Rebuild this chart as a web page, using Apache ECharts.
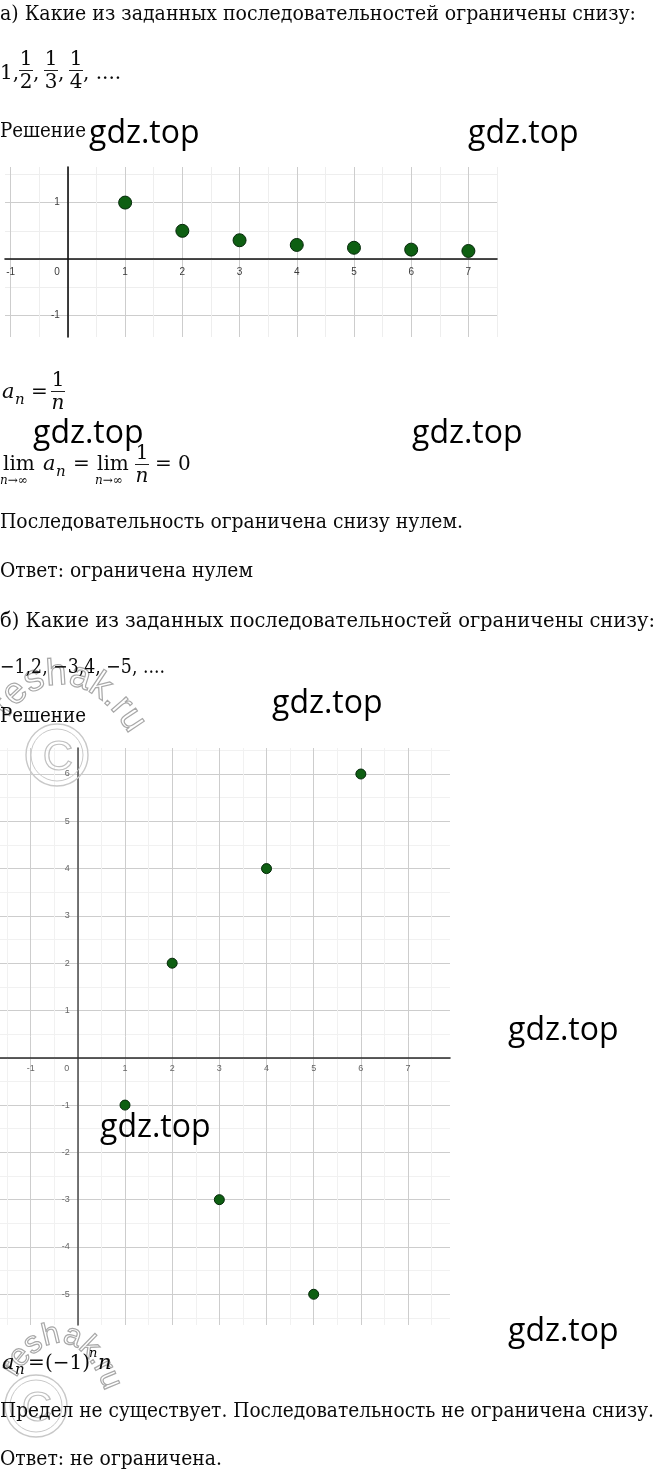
<!DOCTYPE html>
<html><head><meta charset="utf-8">
<script src="https://cdn.jsdelivr.net/npm/echarts@6/dist/echarts.min.js"></script>
<style>
html,body{margin:0;padding:0;background:#fff;}
#page{position:relative;width:656px;height:1471px;overflow:hidden;background:#fff;}
#chart{position:absolute;left:0;top:0;width:656px;height:1471px;}
.t{position:absolute;white-space:nowrap;font-family:"DejaVu Serif";line-height:1;color:#0a0a0a;transform-origin:0 0;}
.g{position:absolute;white-space:nowrap;font-family:"Open Sans";line-height:1;color:#000;}
.bar{position:absolute;height:1px;background:#222;}
#wm{position:absolute;left:0;top:0;pointer-events:none;}
</style></head>
<body>
<div id="page">
<div id="chart"></div>
<svg id="wm" width="656" height="1471">
<defs>
<path id="arc1" d="M 8 718 C 45 655, 135 675, 158 825"/>
<path id="arc2" d="M 16 1378 C 45 1325, 100 1320, 118 1448"/>
</defs>
<g fill="none" stroke="#c8c8c8">
<circle cx="57" cy="755" r="31" stroke-width="1.4"/>
<circle cx="57" cy="755" r="26" stroke-width="1"/>
<circle cx="36" cy="1406" r="31" stroke-width="1.4"/>
<circle cx="36" cy="1406" r="26" stroke-width="1"/>
</g>
<text x="58" y="770" text-anchor="middle" font-family="Liberation Sans" font-size="42" fill="none" stroke="#c0c0c0" stroke-width="1.2">C</text>
<text x="37" y="1421" text-anchor="middle" font-family="Liberation Sans" font-size="42" fill="none" stroke="#c0c0c0" stroke-width="1.2">C</text>
<text font-family="Liberation Sans" font-size="37" fill="none" stroke="#a8a8a8" stroke-width="1.2"><textPath href="#arc1">reshak.ru</textPath></text>
<text font-family="Liberation Sans" font-size="31" fill="none" stroke="#a8a8a8" stroke-width="1.2"><textPath href="#arc2">reshak.ru</textPath></text>
</svg>
</div>
<script>
// ---------- data ----------
const nA = [1, 2, 3, 4, 5, 6, 7];
const valuesA = [1, 0.5, 0.333, 0.25, 0.2, 0.167, 0.143];
const nB = [1, 2, 3, 4, 5, 6];
const valuesB = [-1, 2, -3, 4, -5, 6];
const xTicksA = [-1, 0, 1, 2, 3, 4, 5, 6, 7];
const yTicksA = [-1, 0, 1];
const yLabelsA = [-1, 1];
const xMinorA = [-0.5, 0.5, 1.5, 2.5, 3.5, 4.5, 5.5, 6.5, 7.5];
const yMinorA = [-0.5, 0.5, 1.5];
const xTicksB = [-1, 0, 1, 2, 3, 4, 5, 6, 7];
const yTicksB = [-5, -4, -3, -2, -1, 0, 1, 2, 3, 4, 5, 6];
const yLabelsB = [-5, -4, -3, -2, -1, 1, 2, 3, 4, 5, 6];
const xMinorB = [-1.5, -0.5, 0.5, 1.5, 2.5, 3.5, 4.5, 5.5, 6.5, 7.5];
const yMinorB = [-5.5, -4.5, -3.5, -2.5, -1.5, -0.5, 0.5, 1.5, 2.5, 3.5, 4.5, 5.5, 6.5];

// ---------- text ----------
const page = document.getElementById('page');
function put(txt, x, base, size, o) {
  o = o || {};
  const d = document.createElement('div');
  d.className = o.cls || 't';
  d.style.fontSize = size + 'px';
  if (o.italic) d.style.fontStyle = 'italic';
  d.appendChild(document.createTextNode(txt));
  const m = document.createElement('i');
  m.style.cssText = 'display:inline-block;width:0;height:0;vertical-align:baseline';
  d.appendChild(m);
  d.style.left = '0px'; d.style.top = '0px';
  page.appendChild(d);
  const bOff = m.offsetTop;
  const w = d.getBoundingClientRect().width;
  let left = x;
  if (o.center) left = x - w / 2;
  d.style.left = left + 'px';
  d.style.top = (base - bOff) + 'px';
  if (o.width) d.style.transform = 'scaleX(' + (o.width / w) + ')';
  return d;
}
function bar(x1, x2, y) {
  const b = document.createElement('div');
  b.className = 'bar';
  b.style.left = x1 + 'px'; b.style.width = (x2 - x1) + 'px'; b.style.top = y + 'px';
  page.appendChild(b);
}
function frac(num, den, cx, barY, size, denItalic) {
  put(num, cx, barY - 5, size, {center: true});
  put(den, cx, barY + 18, size, {center: true, italic: denItalic});
  bar(cx - 7, cx + 7, barY);
}
const FS = 19.5;
put('а) Какие из заданных последовательностей ограничены снизу:', 0, 20, FS, {width: 636});
// 1, 1/2, 1/3, 1/4, ....
put('1,', 0, 79, 20);
frac('1', '2', 26, 70, 20);
put(',', 33, 79, 20);
frac('1', '3', 51, 70, 20);
put(',', 58, 79, 20);
frac('1', '4', 76, 70, 20);
put(', ....', 83, 79, 20);
put('Решение', 0, 137, FS, {width: 86});

// a_n = 1/n
put('a', 2, 398, 21, {italic: true});
put('n', 15, 404, 15, {italic: true});
put('=', 31, 398, 20);
frac('1', 'n', 58, 391, 20, true);

// lim
put('lim', 3, 470, 20);
put('n→∞', 0, 484, 12, {italic: true});
put('a', 43, 470, 21, {italic: true});
put('n', 56, 476, 15, {italic: true});
put('=', 73, 470, 20);
put('lim', 97, 470, 20);
put('n→∞', 95, 484, 12, {italic: true});
frac('1', 'n', 142, 464, 20, true);
put('= 0', 155, 470, 20);

put('Последовательность ограничена снизу нулем.', 0, 528, FS, {width: 463});
put('Ответ: ограничена нулем', 0, 577, FS, {width: 253});
put('б) Какие из заданных последовательностей ограничены снизу:', 0, 627, FS, {width: 655});
put('−1,2, −3,4, −5, ....', 0, 673, FS, {width: 165});
put('Решение', 0, 722, FS, {width: 86});

// a_n = (-1)^n n
put('a', 2, 1369, 21, {italic: true});
put('n', 15, 1374, 15, {italic: true});
put('=', 28, 1369, 20);
put('(−1)', 45, 1369, 20);
put('n', 89, 1357, 13, {italic: true});
put('n', 98, 1369, 21, {italic: true});

put('Предел не существует. Последовательность не ограничена снизу.', 0, 1417, FS, {width: 654});
put('Ответ: не ограничена.', 0, 1465, FS, {width: 222});

// gdz.top watermarks
[[89,143],[468,143],[33,443],[412,443],[272,713],[508,1040],[100,1137],[508,1341]].forEach(function(p){
  put('gdz.top', p[0], p[1], 32, {cls: 'g'});
});

// ---------- charts ----------
const chart = echarts.init(document.getElementById('chart'), null, {renderer: 'canvas'});
const labelFont = 'Liberation Sans';
const G = [
  {left: 5, top: 167, width: 492, height: 170},
  {left: 0, top: 748, width: 450, height: 577}
];
// offset that moves a bottom/left axis onto the zero of the other axis
function zeroOffsetX(g, ymin, ymax) { return -(0 - ymin) / (ymax - ymin) * g.height; }
function zeroOffsetY(g, xmin, xmax) { return -(0 - xmin) / (xmax - xmin) * g.width; }

function mainX(gi, min, max, ymin, ymax, ticks, color, axisColor, margin, fs) {
  return {
    type: 'value', gridIndex: gi, min: min, max: max, position: 'bottom',
    offset: zeroOffsetX(G[gi], ymin, ymax),
    axisLine: {show: true, onZero: false, lineStyle: {color: axisColor, width: 1.6}},
    axisTick: {show: false, customValues: ticks},
    axisLabel: {
      customValues: ticks, margin: margin, color: color, fontSize: fs, fontFamily: labelFont,
      formatter: function (v) { return v === 0 ? '{z|0}' : String(v); },
      rich: {z: {padding: [0, 22, 0, 0], color: color, fontSize: fs, fontFamily: labelFont}}
    },
    splitLine: {show: true, lineStyle: {color: '#cdcdcd', width: 1}}
  };
}
function mainY(gi, min, max, xmin, xmax, ticks, labels, color, axisColor, margin, fs) {
  return {
    type: 'value', gridIndex: gi, min: min, max: max, position: 'left',
    offset: zeroOffsetY(G[gi], xmin, xmax),
    axisLine: {show: true, onZero: false, lineStyle: {color: axisColor, width: 1.6}},
    axisTick: {show: false, customValues: ticks},
    axisLabel: {customValues: labels, margin: margin, color: color, fontSize: fs, fontFamily: labelFont},
    splitLine: {show: true, lineStyle: {color: '#cdcdcd', width: 1}}
  };
}
function minorAxis(gi, min, max, ticks, color, pos) {
  return {
    type: 'value', gridIndex: gi, min: min, max: max, position: pos,
    axisLine: {show: false, onZero: false},
    axisTick: {show: false, customValues: ticks},
    axisLabel: {show: false},
    splitLine: {show: true, lineStyle: {color: color, width: 1}}
  };
}

chart.setOption({
  animation: false,
  backgroundColor: 'transparent',
  grid: G.map(function (g) { return Object.assign({outerBoundsMode: 'none', containLabel: false}, g); }),
  xAxis: [
    mainX(0, -1.1, 7.5, -1.38, 1.63, xTicksA, '#3a3a3a', '#111', 8, 10),
    minorAxis(0, -1.1, 7.5, xMinorA, '#eeeeee', 'top'),
    mainX(1, -1.65, 7.89, -5.65, 6.55, xTicksB, '#666', '#2a2a2a', 6, 9),
    minorAxis(1, -1.65, 7.89, xMinorB, '#f1f1f1', 'top')
  ],
  yAxis: [
    mainY(0, -1.38, 1.63, -1.1, 7.5, yTicksA, yLabelsA, '#3a3a3a', '#111', 8, 10),
    minorAxis(0, -1.38, 1.63, yMinorA, '#eeeeee', 'right'),
    mainY(1, -5.65, 6.55, -1.65, 7.89, yTicksB, yLabelsB, '#666', '#555', 8, 9),
    minorAxis(1, -5.65, 6.55, yMinorB, '#f1f1f1', 'right')
  ],
  series: [
    {
      type: 'scatter', xAxisIndex: 0, yAxisIndex: 0, silent: true, z: 5,
      data: nA.map(function (n, i) { return [n, valuesA[i]]; }),
      symbolSize: 13,
      itemStyle: {color: '#0e5f12', borderColor: '#05280a', borderWidth: 1, opacity: 1}
    },
    {
      type: 'scatter', xAxisIndex: 2, yAxisIndex: 2, silent: true, z: 5,
      data: nB.map(function (n, i) { return [n, valuesB[i]]; }),
      symbolSize: 10,
      itemStyle: {color: '#0e5f12', borderColor: '#05280a', borderWidth: 1, opacity: 1}
    }
  ]
});
</script>
</body></html>
